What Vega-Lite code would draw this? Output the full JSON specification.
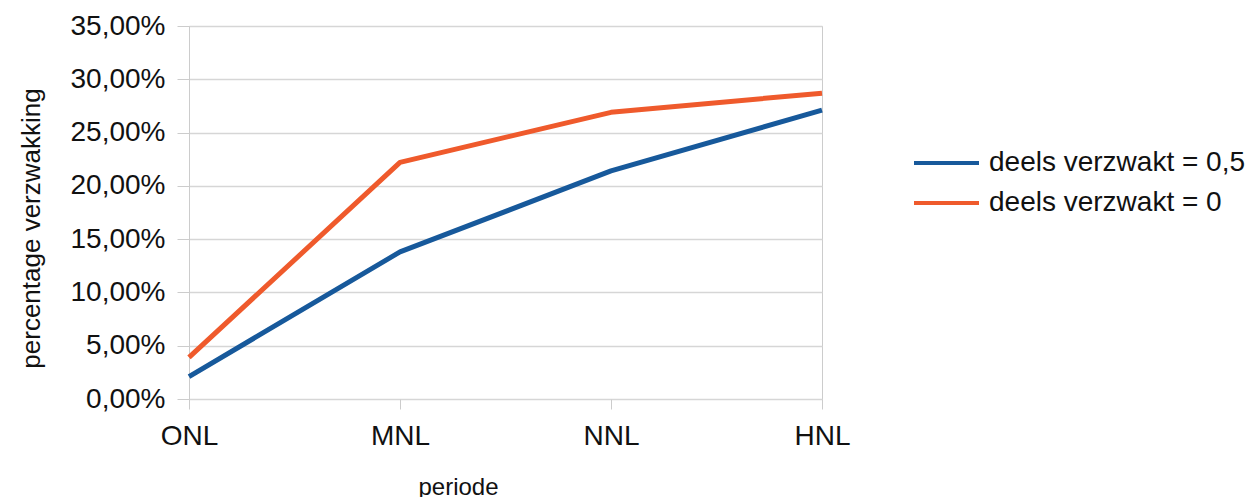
{
  "$schema": "https://vega.github.io/schema/vega-lite/v6.json",
  "width": 633,
  "height": 373,
  "padding": {"left": 18, "top": 12, "right": 5, "bottom": 0},
  "background": "white",
  "data": {
    "values": [
      {"periode": "ONL", "serie": "deels verzwakt = 0,5", "waarde": 0.021},
      {"periode": "MNL", "serie": "deels verzwakt = 0,5", "waarde": 0.138},
      {"periode": "NNL", "serie": "deels verzwakt = 0,5", "waarde": 0.214},
      {"periode": "HNL", "serie": "deels verzwakt = 0,5", "waarde": 0.271},
      {"periode": "ONL", "serie": "deels verzwakt = 0", "waarde": 0.039},
      {"periode": "MNL", "serie": "deels verzwakt = 0", "waarde": 0.222},
      {"periode": "NNL", "serie": "deels verzwakt = 0", "waarde": 0.269},
      {"periode": "HNL", "serie": "deels verzwakt = 0", "waarde": 0.287}
    ]
  },
  "mark": {"type": "line", "strokeWidth": 5, "strokeCap": "butt", "strokeJoin": "round"},
  "encoding": {
    "x": {
      "field": "periode",
      "type": "ordinal",
      "sort": ["ONL", "MNL", "NNL", "HNL"],
      "scale": {"type": "point", "padding": 0},
      "axis": {
        "title": "periode",
        "labelAngle": 0,
        "grid": false,
        "domain": false,
        "tickSize": 10,
        "tickColor": "#cccccc",
        "labelPadding": 13,
        "titlePadding": 25,
        "titleX": 269
      }
    },
    "y": {
      "field": "waarde",
      "type": "quantitative",
      "scale": {"domain": [0, 0.35], "nice": false},
      "axis": {
        "title": "percentage verzwakking",
        "values": [0, 0.05, 0.1, 0.15, 0.2, 0.25, 0.3, 0.35],
        "labelExpr": "replace(format(datum.value, '.2%'), '.', ',')",
        "tickSize": 12,
        "tickColor": "#cccccc",
        "gridColor": "#d6d6d6",
        "domainColor": "#cccccc",
        "labelPadding": 12,
        "titlePadding": 26,
        "titleFontSize": 26,
        "titleY": 202
      }
    },
    "color": {
      "field": "serie",
      "type": "nominal",
      "sort": ["deels verzwakt = 0,5", "deels verzwakt = 0"],
      "scale": {"domain": ["deels verzwakt = 0,5", "deels verzwakt = 0"], "range": ["#17599b", "#ef5a2c"]},
      "legend": {
        "title": null,
        "orient": "none",
        "legendX": 723,
        "legendY": 117,
        "symbolType": "stroke",
        "symbolSize": 4225,
        "symbolStrokeWidth": 4,
        "labelOffset": 8,
        "clipHeight": 40,
        "rowPadding": 0
      }
    }
  },
  "config": {
    "font": "Liberation Sans",
    "view": {"stroke": "#cccccc", "strokeWidth": 1},
    "axis": {
      "labelFont": "Liberation Sans",
      "titleFont": "Liberation Sans",
      "labelFontSize": 28,
      "titleFontSize": 24,
      "labelColor": "#111111",
      "titleColor": "#111111",
      "titleFontWeight": "normal",
      "gridWidth": 1.5
    },
    "legend": {
      "labelFont": "Liberation Sans",
      "labelFontSize": 28,
      "labelColor": "#111111",
      "labelLimit": 400
    }
  }
}
